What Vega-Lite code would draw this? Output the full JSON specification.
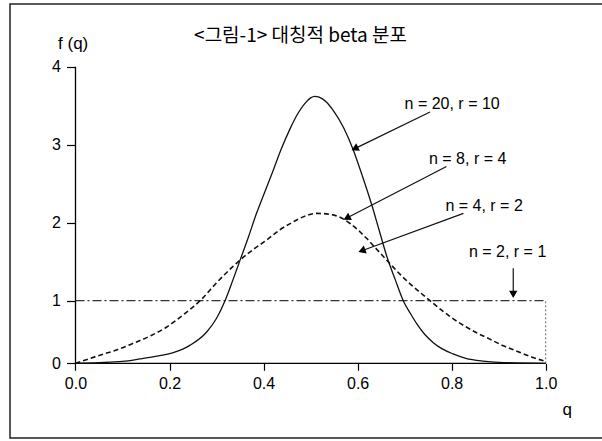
{
  "$schema": "https://vega.github.io/schema/vega-lite/v6.json",
  "width": 594,
  "height": 434,
  "autosize": {"type": "none"},
  "padding": {"left": 10, "top": 4, "right": 0, "bottom": 3},
  "background": "white",
  "config": {
    "view": {"stroke": "#222", "strokeWidth": 1.5},
    "axis": {
      "domain": false, "grid": false, "title": null,
      "tickColor": "#000", "tickWidth": 1.2, "tickSize": 8,
      "labelColor": "#000", "labelFont": "Liberation Sans"
    }
  },
  "datasets": {
    "curves": [
      {"q": 0, "f": 0, "s": "n20"}, {"q": 0.05, "f": 0.01, "s": "n20"}, {"q": 0.1, "f": 0.03, "s": "n20"},
      {"q": 0.137, "f": 0.07, "s": "n20"}, {"q": 0.17, "f": 0.11, "s": "n20"}, {"q": 0.208, "f": 0.17, "s": "n20"},
      {"q": 0.244, "f": 0.29, "s": "n20"}, {"q": 0.279, "f": 0.5, "s": "n20"}, {"q": 0.3, "f": 0.72, "s": "n20"},
      {"q": 0.318, "f": 1.0, "s": "n20"}, {"q": 0.335, "f": 1.27, "s": "n20"}, {"q": 0.35, "f": 1.52, "s": "n20"},
      {"q": 0.368, "f": 1.82, "s": "n20"}, {"q": 0.385, "f": 2.12, "s": "n20"}, {"q": 0.403, "f": 2.4, "s": "n20"},
      {"q": 0.421, "f": 2.68, "s": "n20"}, {"q": 0.438, "f": 2.95, "s": "n20"}, {"q": 0.456, "f": 3.2, "s": "n20"},
      {"q": 0.472, "f": 3.39, "s": "n20"}, {"q": 0.488, "f": 3.53, "s": "n20"}, {"q": 0.5, "f": 3.6, "s": "n20"},
      {"q": 0.509, "f": 3.62, "s": "n20"}, {"q": 0.518, "f": 3.61, "s": "n20"}, {"q": 0.533, "f": 3.55, "s": "n20"},
      {"q": 0.548, "f": 3.44, "s": "n20"}, {"q": 0.57, "f": 3.22, "s": "n20"},
      {"q": 0.591, "f": 2.93, "s": "n20"}, {"q": 0.61, "f": 2.6, "s": "n20"}, {"q": 0.63, "f": 2.23, "s": "n20"},
      {"q": 0.646, "f": 1.9, "s": "n20"}, {"q": 0.662, "f": 1.57, "s": "n20"}, {"q": 0.68, "f": 1.27, "s": "n20"},
      {"q": 0.697, "f": 1.0, "s": "n20"}, {"q": 0.712, "f": 0.8, "s": "n20"}, {"q": 0.726, "f": 0.63, "s": "n20"},
      {"q": 0.743, "f": 0.46, "s": "n20"}, {"q": 0.761, "f": 0.33, "s": "n20"}, {"q": 0.78, "f": 0.23, "s": "n20"},
      {"q": 0.803, "f": 0.15, "s": "n20"}, {"q": 0.83, "f": 0.08, "s": "n20"}, {"q": 0.867, "f": 0.035, "s": "n20"},
      {"q": 0.9, "f": 0.015, "s": "n20"}, {"q": 1.0, "f": 0, "s": "n20"},
      {"q": 0, "f": 0, "s": "n8"}, {"q": 0.052, "f": 0.13, "s": "n8"}, {"q": 0.09, "f": 0.22, "s": "n8"},
      {"q": 0.123, "f": 0.32, "s": "n8"}, {"q": 0.16, "f": 0.44, "s": "n8"}, {"q": 0.194, "f": 0.58, "s": "n8"},
      {"q": 0.23, "f": 0.78, "s": "n8"}, {"q": 0.265, "f": 1.0, "s": "n8"}, {"q": 0.3, "f": 1.23, "s": "n8"},
      {"q": 0.335, "f": 1.44, "s": "n8"}, {"q": 0.37, "f": 1.62, "s": "n8"}, {"q": 0.407, "f": 1.78, "s": "n8"},
      {"q": 0.435, "f": 1.91, "s": "n8"}, {"q": 0.463, "f": 2.01, "s": "n8"}, {"q": 0.49, "f": 2.09, "s": "n8"},
      {"q": 0.513, "f": 2.12, "s": "n8"}, {"q": 0.548, "f": 2.1, "s": "n8"}, {"q": 0.584, "f": 1.99, "s": "n8"},
      {"q": 0.619, "f": 1.8, "s": "n8"}, {"q": 0.642, "f": 1.65, "s": "n8"}, {"q": 0.665, "f": 1.5, "s": "n8"},
      {"q": 0.69, "f": 1.34, "s": "n8"}, {"q": 0.711, "f": 1.22, "s": "n8"}, {"q": 0.734, "f": 1.1, "s": "n8"},
      {"q": 0.754, "f": 1.0, "s": "n8"}, {"q": 0.775, "f": 0.87, "s": "n8"}, {"q": 0.796, "f": 0.75, "s": "n8"},
      {"q": 0.82, "f": 0.63, "s": "n8"}, {"q": 0.85, "f": 0.5, "s": "n8"}, {"q": 0.88, "f": 0.39, "s": "n8"},
      {"q": 0.91, "f": 0.28, "s": "n8"}, {"q": 0.94, "f": 0.19, "s": "n8"}, {"q": 0.97, "f": 0.1, "s": "n8"},
      {"q": 1.0, "f": 0.03, "s": "n8"},
      {"q": 0, "f": 1, "s": "n2"}, {"q": 1, "f": 1, "s": "n2"}
    ],
    "arrows": [
      {"q": 0.754, "f": 3.42, "q2": 0.594, "f2": 2.95, "angle": 244},
      {"q": 0.789, "f": 2.72, "q2": 0.577, "f2": 2.06, "angle": 243},
      {"q": 0.825, "f": 2.12, "q2": 0.609, "f2": 1.64, "angle": 250},
      {"q": 0.931, "f": 1.415, "q2": 0.931, "f2": 1.08, "angle": 180}
    ],
    "notes": [
      {"q": 0.801, "f": 3.52, "label": "n = 20, r = 10", "g": "note"},
      {"q": 0.834, "f": 2.82, "label": "n = 8, r = 4", "g": "note"},
      {"q": 0.869, "f": 2.21, "label": "n = 4, r = 2", "g": "note"},
      {"q": 0.919, "f": 1.62, "label": "n = 2, r = 1", "g": "note"},
      {"q": -0.005, "f": 4.29, "label": "f (q)", "g": "axis"},
      {"q": 1.046, "f": -0.625, "label": "q", "g": "axis"},
      {"q": 0.4785, "f": 4.39, "label": "<그림-1> 대칭적 beta 분포", "g": "title"}
    ],
    "axislines": [
      {"q": 0, "f": 0, "q2": 1, "f2": 0},
      {"q": 0, "f": 0, "q2": 0, "f2": 4}
    ],
    "edge": [
      {"q": 1, "f": 0, "q2": 1, "f2": 1}
    ]
  },
  "layer": [
    {
      "data": {"name": "axislines"},
      "mark": {"type": "rule", "color": "#000", "strokeWidth": 1.3},
      "encoding": {
        "x": {"field": "q", "type": "quantitative", "scale": {"domain": [-0.1393, 1.1240], "nice": false, "zero": false},
              "axis": {"values": [0, 0.2, 0.4, 0.6, 0.8, 1.0], "format": ".1f", "orient": "bottom", "offset": -74.7, "labelFontSize": 16, "labelPadding": 5, "tickSize": 7}},
        "x2": {"field": "q2"},
        "y": {"field": "f", "type": "quantitative", "scale": {"domain": [-1, 0, 1, 4, 4.804], "range": [434, 359.3, 296.7, 62.7, 0], "nice": false, "zero": false},
              "axis": {"values": [0, 1, 2, 3, 4], "format": "d", "orient": "left", "offset": -65.5, "labelFontSize": 16, "labelPadding": 6, "tickSize": 9}},
        "y2": {"field": "f2"}
      }
    },
    {
      "data": {"name": "edge"},
      "mark": {"type": "rule", "color": "#666", "strokeWidth": 1, "strokeDash": [2, 2]},
      "encoding": {"x": {"field": "q", "type": "quantitative"}, "y": {"field": "f", "type": "quantitative"}, "x2": {"field": "q2"}, "y2": {"field": "f2"}}
    },
    {
      "data": {"name": "curves"},
      "transform": [{"filter": "datum.s === 'n2'"}],
      "mark": {"type": "line", "color": "#333", "strokeWidth": 1.2, "strokeDash": [9, 3, 2, 3]},
      "encoding": {"x": {"field": "q", "type": "quantitative"}, "y": {"field": "f", "type": "quantitative"}}
    },
    {
      "data": {"name": "curves"},
      "transform": [{"filter": "datum.s === 'n8'"}],
      "mark": {"type": "line", "color": "#111", "strokeWidth": 1.6, "strokeDash": [5, 3], "interpolate": "monotone"},
      "encoding": {"x": {"field": "q", "type": "quantitative"}, "y": {"field": "f", "type": "quantitative"}}
    },
    {
      "data": {"name": "curves"},
      "transform": [{"filter": "datum.s === 'n20'"}],
      "mark": {"type": "line", "color": "#111", "strokeWidth": 1.3, "interpolate": "monotone"},
      "encoding": {"x": {"field": "q", "type": "quantitative"}, "y": {"field": "f", "type": "quantitative"}}
    },
    {
      "data": {"name": "arrows"},
      "mark": {"type": "rule", "color": "#111", "strokeWidth": 1.2},
      "encoding": {
        "x": {"field": "q", "type": "quantitative"}, "y": {"field": "f", "type": "quantitative"},
        "x2": {"field": "q2"}, "y2": {"field": "f2"}
      }
    },
    {
      "data": {"name": "arrows"},
      "mark": {"type": "point", "shape": "triangle-up", "filled": true, "color": "#000", "size": 70, "opacity": 1},
      "encoding": {
        "x": {"field": "q2", "type": "quantitative"}, "y": {"field": "f2", "type": "quantitative"},
        "angle": {"field": "angle", "type": "quantitative", "scale": null}
      }
    },
    {
      "data": {"name": "notes"},
      "transform": [{"filter": "datum.g === 'note'"}],
      "mark": {"type": "text", "font": "Liberation Sans", "fontSize": 16, "color": "#000", "align": "center", "baseline": "middle"},
      "encoding": {
        "x": {"field": "q", "type": "quantitative"}, "y": {"field": "f", "type": "quantitative"},
        "text": {"field": "label"}
      }
    },
    {
      "data": {"name": "notes"},
      "transform": [{"filter": "datum.g === 'axis'"}],
      "mark": {"type": "text", "font": "Liberation Sans", "fontSize": 17, "color": "#000", "align": "center", "baseline": "middle"},
      "encoding": {
        "x": {"field": "q", "type": "quantitative"}, "y": {"field": "f", "type": "quantitative"},
        "text": {"field": "label"}
      }
    },
    {
      "data": {"name": "notes"},
      "transform": [{"filter": "datum.g === 'title'"}],
      "mark": {"type": "text", "font": "Noto Sans CJK KR", "fontSize": 19, "color": "#000", "align": "center", "baseline": "middle"},
      "encoding": {
        "x": {"field": "q", "type": "quantitative"}, "y": {"field": "f", "type": "quantitative"},
        "text": {"field": "label"}
      }
    }
  ]
}
